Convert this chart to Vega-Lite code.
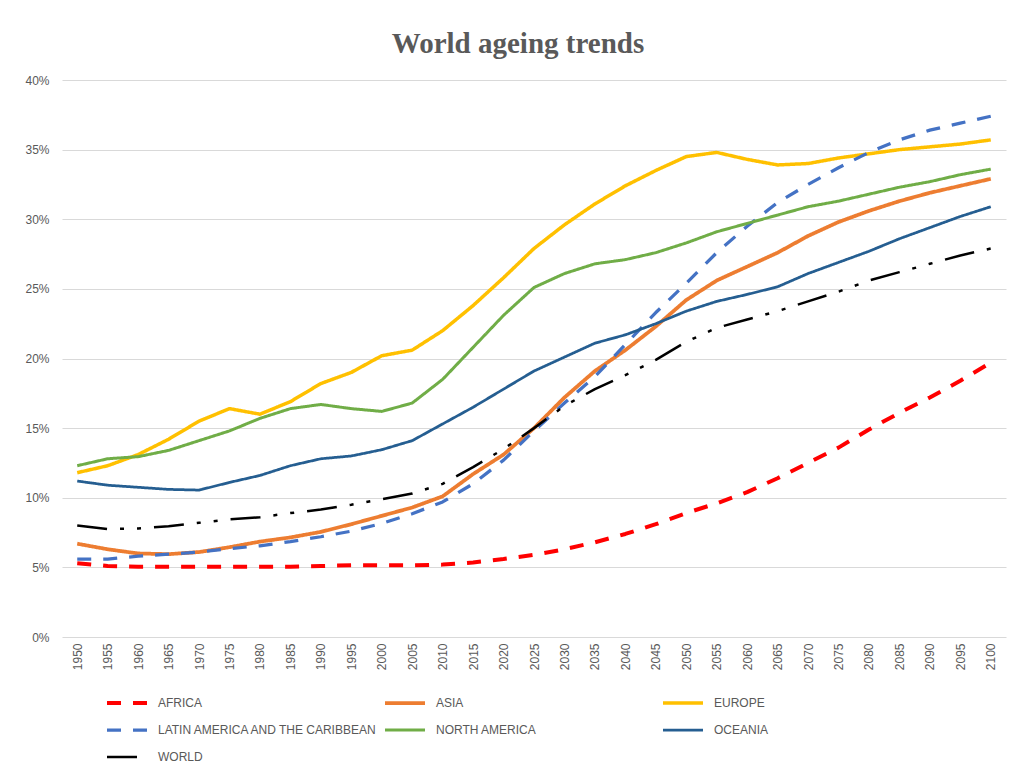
{
  "$schema": "https://vega.github.io/schema/vega-lite/v6.json",
  "width": 944,
  "height": 557,
  "autosize": {"type": "none"},
  "padding": {"left": 62, "top": 80, "right": 6, "bottom": 134},
  "background": "white",
  "title": {
    "text": "World ageing trends",
    "font": "Liberation Serif",
    "fontSize": 29,
    "fontWeight": "bold",
    "color": "#595959",
    "anchor": "middle",
    "offset": 15,
    "dx": -16
  },
  "datasets": {
    "trends": [
      {"year": 1950, "AFRICA": 5.3, "ASIA": 6.7, "EUROPE": 11.8, "LATIN AMERICA AND THE CARIBBEAN": 5.6, "NORTH AMERICA": 12.3, "OCEANIA": 11.2, "WORLD": 8.0},
      {"year": 1955, "AFRICA": 5.1, "ASIA": 6.3, "EUROPE": 12.3, "LATIN AMERICA AND THE CARIBBEAN": 5.6, "NORTH AMERICA": 12.8, "OCEANIA": 10.9, "WORLD": 7.75},
      {"year": 1960, "AFRICA": 5.05, "ASIA": 6.0, "EUROPE": 13.1, "LATIN AMERICA AND THE CARIBBEAN": 5.8, "NORTH AMERICA": 12.95, "OCEANIA": 10.75, "WORLD": 7.8},
      {"year": 1965, "AFRICA": 5.05, "ASIA": 5.95, "EUROPE": 14.2, "LATIN AMERICA AND THE CARIBBEAN": 5.95, "NORTH AMERICA": 13.4, "OCEANIA": 10.6, "WORLD": 7.95},
      {"year": 1970, "AFRICA": 5.05, "ASIA": 6.1, "EUROPE": 15.5, "LATIN AMERICA AND THE CARIBBEAN": 6.1, "NORTH AMERICA": 14.1, "OCEANIA": 10.55, "WORLD": 8.2},
      {"year": 1975, "AFRICA": 5.05, "ASIA": 6.45, "EUROPE": 16.4, "LATIN AMERICA AND THE CARIBBEAN": 6.35, "NORTH AMERICA": 14.8, "OCEANIA": 11.1, "WORLD": 8.45},
      {"year": 1980, "AFRICA": 5.05, "ASIA": 6.85, "EUROPE": 16.0, "LATIN AMERICA AND THE CARIBBEAN": 6.55, "NORTH AMERICA": 15.7, "OCEANIA": 11.6, "WORLD": 8.6},
      {"year": 1985, "AFRICA": 5.05, "ASIA": 7.15, "EUROPE": 16.9, "LATIN AMERICA AND THE CARIBBEAN": 6.85, "NORTH AMERICA": 16.4, "OCEANIA": 12.3, "WORLD": 8.9},
      {"year": 1990, "AFRICA": 5.1, "ASIA": 7.55, "EUROPE": 18.2, "LATIN AMERICA AND THE CARIBBEAN": 7.2, "NORTH AMERICA": 16.7, "OCEANIA": 12.8, "WORLD": 9.15},
      {"year": 1995, "AFRICA": 5.15, "ASIA": 8.1, "EUROPE": 19.0, "LATIN AMERICA AND THE CARIBBEAN": 7.6, "NORTH AMERICA": 16.4, "OCEANIA": 13.0, "WORLD": 9.5},
      {"year": 2000, "AFRICA": 5.15, "ASIA": 8.7, "EUROPE": 20.2, "LATIN AMERICA AND THE CARIBBEAN": 8.15, "NORTH AMERICA": 16.2, "OCEANIA": 13.45, "WORLD": 9.9},
      {"year": 2005, "AFRICA": 5.15, "ASIA": 9.3, "EUROPE": 20.6, "LATIN AMERICA AND THE CARIBBEAN": 8.85, "NORTH AMERICA": 16.8, "OCEANIA": 14.1, "WORLD": 10.3},
      {"year": 2010, "AFRICA": 5.2, "ASIA": 10.1, "EUROPE": 22.0, "LATIN AMERICA AND THE CARIBBEAN": 9.7, "NORTH AMERICA": 18.5, "OCEANIA": 15.3, "WORLD": 11.0},
      {"year": 2015, "AFRICA": 5.35, "ASIA": 11.7, "EUROPE": 23.8, "LATIN AMERICA AND THE CARIBBEAN": 11.0, "NORTH AMERICA": 20.8, "OCEANIA": 16.5, "WORLD": 12.2},
      {"year": 2020, "AFRICA": 5.6, "ASIA": 13.1, "EUROPE": 25.8, "LATIN AMERICA AND THE CARIBBEAN": 12.7, "NORTH AMERICA": 23.1, "OCEANIA": 17.8, "WORLD": 13.5},
      {"year": 2025, "AFRICA": 5.9, "ASIA": 15.0, "EUROPE": 27.9, "LATIN AMERICA AND THE CARIBBEAN": 14.8, "NORTH AMERICA": 25.1, "OCEANIA": 19.1, "WORLD": 15.0},
      {"year": 2030, "AFRICA": 6.3, "ASIA": 17.2, "EUROPE": 29.6, "LATIN AMERICA AND THE CARIBBEAN": 16.8, "NORTH AMERICA": 26.1, "OCEANIA": 20.1, "WORLD": 16.6},
      {"year": 2035, "AFRICA": 6.8, "ASIA": 19.1, "EUROPE": 31.1, "LATIN AMERICA AND THE CARIBBEAN": 18.7, "NORTH AMERICA": 26.8, "OCEANIA": 21.1, "WORLD": 17.8},
      {"year": 2040, "AFRICA": 7.4, "ASIA": 20.6, "EUROPE": 32.4, "LATIN AMERICA AND THE CARIBBEAN": 21.0, "NORTH AMERICA": 27.1, "OCEANIA": 21.7, "WORLD": 18.8},
      {"year": 2045, "AFRICA": 8.1, "ASIA": 22.3, "EUROPE": 33.5, "LATIN AMERICA AND THE CARIBBEAN": 23.3, "NORTH AMERICA": 27.6, "OCEANIA": 22.5, "WORLD": 19.9},
      {"year": 2050, "AFRICA": 8.9, "ASIA": 24.2, "EUROPE": 34.5, "LATIN AMERICA AND THE CARIBBEAN": 25.4, "NORTH AMERICA": 28.3, "OCEANIA": 23.4, "WORLD": 21.2},
      {"year": 2055, "AFRICA": 9.6, "ASIA": 25.6, "EUROPE": 34.8, "LATIN AMERICA AND THE CARIBBEAN": 27.6, "NORTH AMERICA": 29.1, "OCEANIA": 24.1, "WORLD": 22.2},
      {"year": 2060, "AFRICA": 10.4, "ASIA": 26.6, "EUROPE": 34.3, "LATIN AMERICA AND THE CARIBBEAN": 29.5, "NORTH AMERICA": 29.7, "OCEANIA": 24.6, "WORLD": 22.8},
      {"year": 2065, "AFRICA": 11.4, "ASIA": 27.6, "EUROPE": 33.9, "LATIN AMERICA AND THE CARIBBEAN": 31.2, "NORTH AMERICA": 30.3, "OCEANIA": 25.15, "WORLD": 23.4},
      {"year": 2070, "AFRICA": 12.5, "ASIA": 28.8, "EUROPE": 34.0, "LATIN AMERICA AND THE CARIBBEAN": 32.5, "NORTH AMERICA": 30.9, "OCEANIA": 26.1, "WORLD": 24.1},
      {"year": 2075, "AFRICA": 13.6, "ASIA": 29.8, "EUROPE": 34.4, "LATIN AMERICA AND THE CARIBBEAN": 33.7, "NORTH AMERICA": 31.3, "OCEANIA": 26.9, "WORLD": 24.8},
      {"year": 2080, "AFRICA": 14.9, "ASIA": 30.6, "EUROPE": 34.7, "LATIN AMERICA AND THE CARIBBEAN": 34.8, "NORTH AMERICA": 31.8, "OCEANIA": 27.7, "WORLD": 25.6},
      {"year": 2085, "AFRICA": 16.1, "ASIA": 31.3, "EUROPE": 35.0, "LATIN AMERICA AND THE CARIBBEAN": 35.7, "NORTH AMERICA": 32.3, "OCEANIA": 28.6, "WORLD": 26.2},
      {"year": 2090, "AFRICA": 17.2, "ASIA": 31.9, "EUROPE": 35.2, "LATIN AMERICA AND THE CARIBBEAN": 36.4, "NORTH AMERICA": 32.7, "OCEANIA": 29.4, "WORLD": 26.8},
      {"year": 2095, "AFRICA": 18.4, "ASIA": 32.4, "EUROPE": 35.4, "LATIN AMERICA AND THE CARIBBEAN": 36.9, "NORTH AMERICA": 33.2, "OCEANIA": 30.2, "WORLD": 27.4},
      {"year": 2100, "AFRICA": 19.7, "ASIA": 32.9, "EUROPE": 35.7, "LATIN AMERICA AND THE CARIBBEAN": 37.4, "NORTH AMERICA": 33.6, "OCEANIA": 30.9, "WORLD": 27.9}
    ]
  },
  "data": {"name": "trends"},
  "transform": [
    {"fold": ["AFRICA", "ASIA", "EUROPE", "LATIN AMERICA AND THE CARIBBEAN", "NORTH AMERICA", "OCEANIA", "WORLD"], "as": ["region", "value"]}
  ],
  "mark": {"type": "line", "strokeCap": "butt", "strokeJoin": "round"},
  "encoding": {
    "x": {
      "field": "year",
      "type": "ordinal",
      "scale": {"type": "point", "padding": 0.5},
      "axis": {
        "title": null,
        "labelAngle": -90,
        "labelFont": "Liberation Sans",
        "labelFontSize": 12,
        "labelColor": "#595959",
        "labelPadding": 6,
        "ticks": false,
        "domain": false,
        "grid": false
      }
    },
    "y": {
      "field": "value",
      "type": "quantitative",
      "scale": {"domain": [0, 40], "nice": false},
      "axis": {
        "title": null,
        "values": [0, 5, 10, 15, 20, 25, 30, 35, 40],
        "labelExpr": "datum.value + '%'",
        "labelFont": "Liberation Sans",
        "labelFontSize": 12,
        "labelColor": "#595959",
        "labelPadding": 13,
        "ticks": false,
        "domain": false,
        "grid": true,
        "gridColor": "#d9d9d9",
        "gridWidth": 1
      }
    },
    "color": {
      "field": "region",
      "type": "nominal",
      "scale": {
        "domain": ["AFRICA", "ASIA", "EUROPE", "LATIN AMERICA AND THE CARIBBEAN", "NORTH AMERICA", "OCEANIA", "WORLD"],
        "range": ["#ff0000", "#ed7d31", "#ffc000", "#4472c4", "#70ad47", "#255e91", "#000000"]
      },
      "legend": {
        "title": null,
        "orient": "none",
        "legendX": 43,
        "legendY": 616,
        "direction": "horizontal",
        "columns": 3,
        "gridAlign": "all",
        "columnPadding": 5,
        "rowPadding": 13,
        "clipHeight": 14,
        "symbolType": "stroke",
        "symbolSize": 1600,
        "symbolStrokeWidth": 4,
        "labelFont": "Liberation Sans",
        "labelFontSize": 12,
        "labelColor": "#595959",
        "labelOffset": 9,
        "labelLimit": 400
      }
    },
    "strokeDash": {
      "field": "region",
      "type": "nominal",
      "scale": {
        "domain": ["AFRICA", "ASIA", "EUROPE", "LATIN AMERICA AND THE CARIBBEAN", "NORTH AMERICA", "OCEANIA", "WORLD"],
        "range": [[14, 12], [1, 0], [1, 0], [14, 12], [1, 0], [1, 0], [30, 13, 4, 13, 4, 13]]
      }
    },
    "strokeWidth": {
      "field": "region",
      "type": "nominal",
      "scale": {
        "domain": ["AFRICA", "ASIA", "EUROPE", "LATIN AMERICA AND THE CARIBBEAN", "NORTH AMERICA", "OCEANIA", "WORLD"],
        "range": [4, 2.5, 2.5, 4, 2.5, 2.5, 4]
      },
      "legend": null
    }
  },
  "config": {
    "view": {"stroke": null}
  }
}
